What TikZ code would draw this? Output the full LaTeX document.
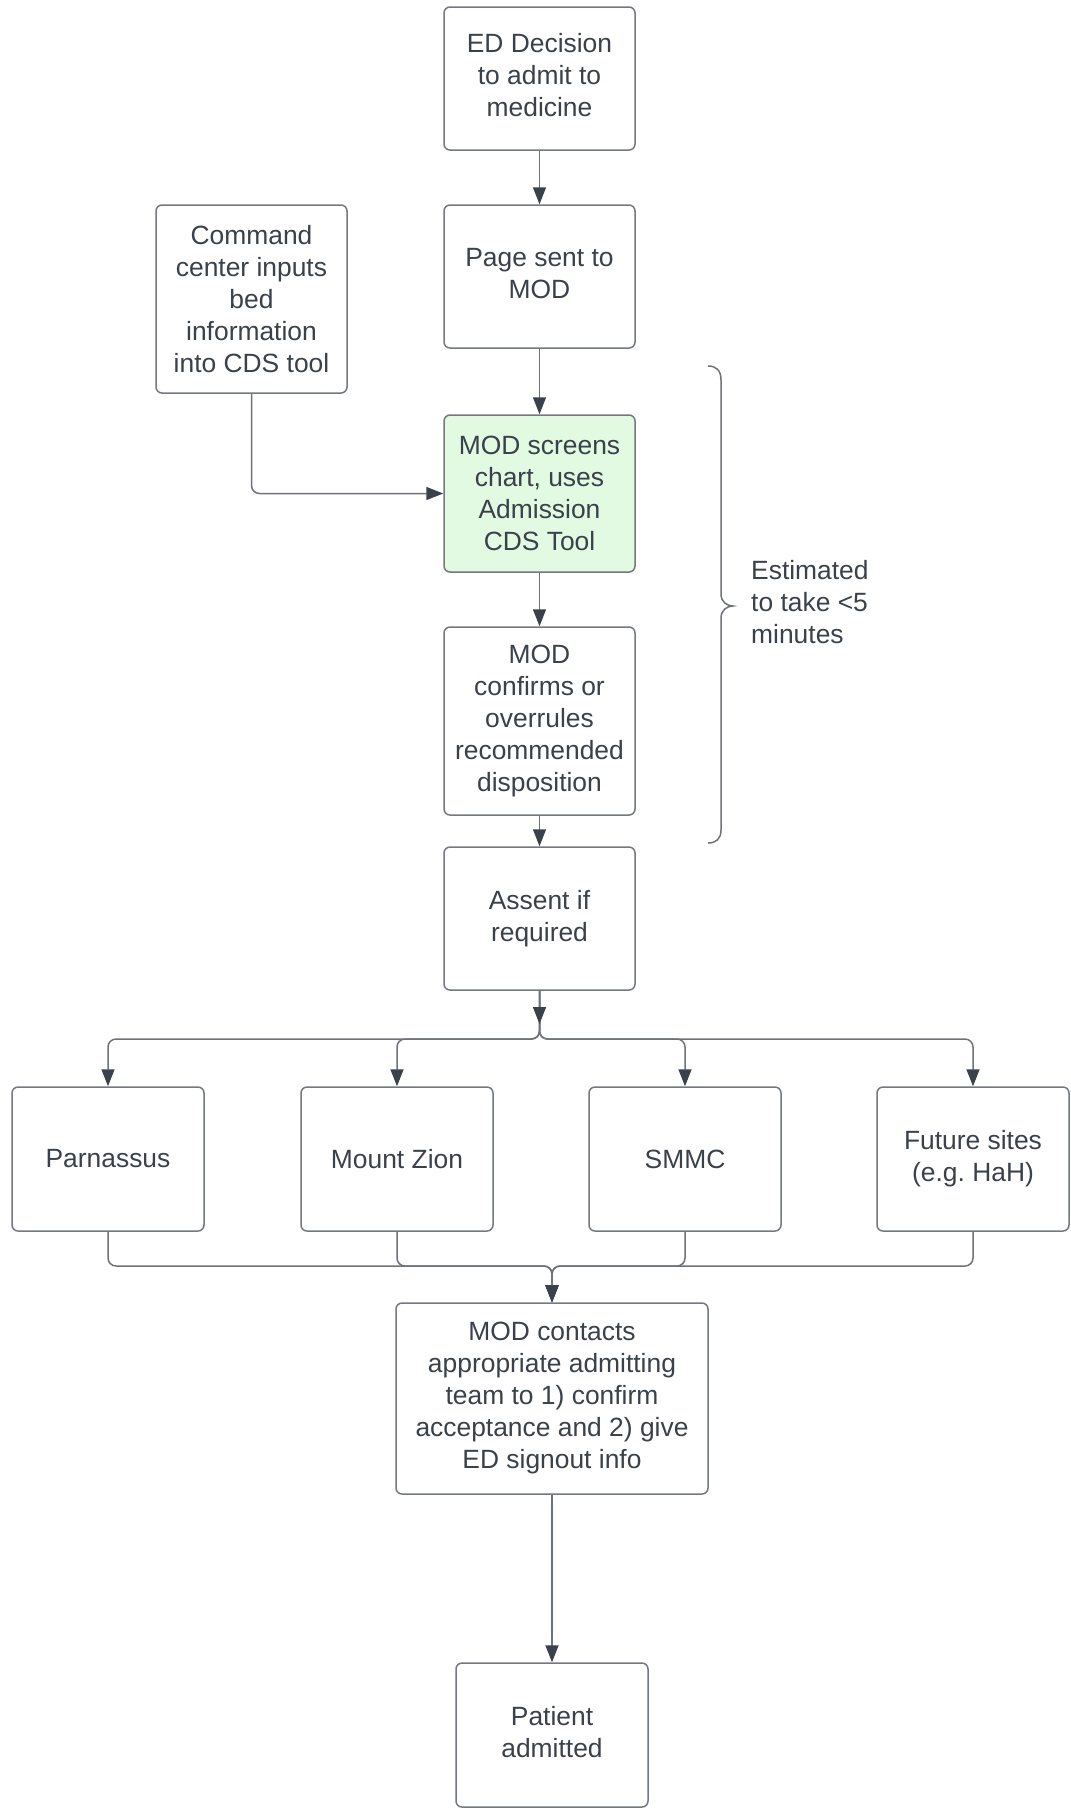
\documentclass[tikz,border=0pt]{standalone}
\usepackage{fontspec}
\setmainfont{Liberation Sans}
\usetikzlibrary{arrows.meta}
\definecolor{txt}{HTML}{3A414A}
\definecolor{bord}{HTML}{74787F}
\definecolor{linec}{HTML}{6E7279}
\definecolor{ahead}{HTML}{3A414A}
\definecolor{greenfill}{HTML}{E2F9E2}
\frenchspacing
\tikzset{
  box/.style={draw=bord, line width=1.5pt, rounded corners=6pt, fill=white,
    minimum width=191pt, minimum height=143pt, inner sep=0pt, align=center,
    text=txt, font=\fontsize{26.4}{32}\selectfont},
  conn/.style={draw=linec, line width=1.5pt, rounded corners=8pt,
    -{Triangle[length=17pt,width=13pt,color=ahead]}},
  note/.style={text=txt, align=left, anchor=west, inner sep=0pt, font=\fontsize{26.4}{32}\selectfont}
}
\newcommand{\upby}[2]{\raisebox{#1}{\begin{tabular}{@{}c@{}}#2\end{tabular}}}
\begin{document}
\begin{tikzpicture}[x=1pt,y=-1pt]
\useasboundingbox (0,0) rectangle (1071,1808);

\node[box] (ed) at (539.5,78.5) {\upby{2pt}{ED Decision\\to admit to\\medicine}};
\node[box] (page) at (539.5,276.5) {\upby{3pt}{Page sent to\\MOD}};
\node[box, minimum height=188pt] (cmd) at (251.5,299) {Command\\center inputs\\bed\\information\\into CDS tool};
\node[box, minimum height=157pt, fill=greenfill] (screen) at (539.5,493.5) {MOD screens\\chart, uses\\Admission\\CDS Tool};
\node[box, minimum height=188pt] (confirm) at (539.5,721) {MOD\\confirms or\\overrules\\recommended\\disposition};
\node[box] (assent) at (539.5,918.5) {Assent if\\required};

\node[box, minimum width=192pt, minimum height=144pt] (parn) at (108,1159) {Parnassus};
\node[box, minimum width=192pt, minimum height=144pt] (zion) at (397,1159) {Mount Zion};
\node[box, minimum width=192pt, minimum height=144pt] (smmc) at (685,1159) {SMMC};
\node[box, minimum width=192pt, minimum height=144pt] (future) at (973,1159) {Future sites\\(e.g. HaH)};

\node[box, minimum width=312pt, minimum height=191pt] (contact) at (552,1398.5) {\upby{-3pt}{MOD contacts\\appropriate admitting\\team to 1) confirm\\acceptance and 2) give\\ED signout info}};
\node[box, minimum width=192pt, minimum height=144pt] (patient) at (552,1735) {\upby{4pt}{Patient\\admitted}};

\node[note] (est) at (751,602) {Estimated\\to take <5\\minutes};

% connectors
\draw[conn] (ed.south) -- (page.north);
\draw[conn] (page.south) -- (screen.north);
\draw[conn] (cmd.south) |- (screen.west);
\draw[conn] (screen.south) -- (confirm.north);
\draw[conn] (confirm.south) -- (assent.north);

\coordinate (topbus) at (539.5,1039);
\coordinate (hubtip) at (539.5,1024);
\draw[conn] (assent.south) -- (topbus) -| (parn.north);
\draw[conn] (assent.south) -- (topbus) -| (zion.north);
\draw[conn] (assent.south) -- (topbus) -| (smmc.north);
\draw[conn] (assent.south) -- (topbus) -| (future.north);
\draw[conn] (assent.south) -- (hubtip);

\coordinate (botbus) at (552,1266);
\draw[conn] (parn.south) |- (botbus) -- (contact.north);
\draw[conn] (zion.south) |- (botbus) -- (contact.north);
\draw[conn] (smmc.south) |- (botbus) -- (contact.north);
\draw[conn] (future.south) |- (botbus) -- (contact.north);

\draw[conn] (contact.south) -- (patient.north);

% brace
\draw[draw=linec, line width=1.5pt]
  (708,366) .. controls (716,366) and (721,370) .. (721,380)
  -- (721,594) .. controls (721,602) and (727,606) .. (733,606)
  .. controls (727,606) and (721,610) .. (721,618)
  -- (721,830) .. controls (721,839) and (716,843) .. (708,843);
\end{tikzpicture}
\end{document}
